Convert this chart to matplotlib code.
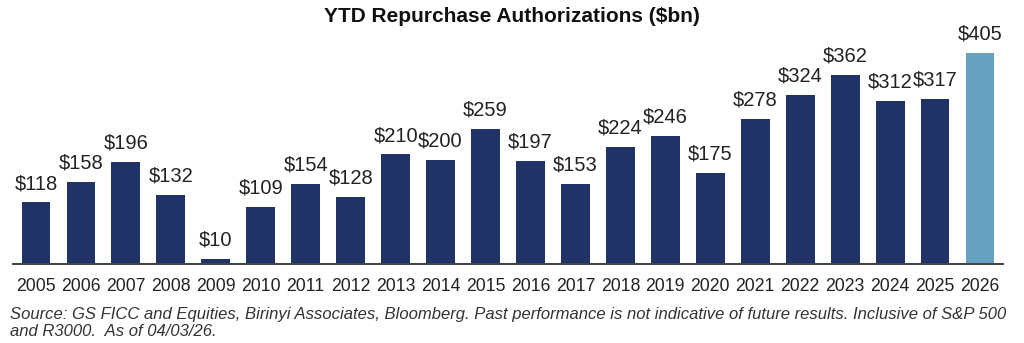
import matplotlib.pyplot as plt
import numpy as np

plt.rcParams['font.family'] = ['Liberation Sans', 'DejaVu Sans']

years = [str(y) for y in range(2005, 2027)]
values = [118, 158, 196, 132, 10, 109, 154, 128, 210, 200, 259,
          197, 153, 224, 246, 175, 278, 324, 362, 312, 317, 405]

navy = '#1f3366'
light = '#68a0c2'
colors = [navy] * (len(values) - 1) + [light]

fig = plt.figure(figsize=(10.24, 3.43), dpi=100)
ax = fig.add_axes([13 / 1024, 79 / 343, 990 / 1024, 240 / 343])

x = np.arange(len(values))
bars = ax.bar(x, values, width=0.64, color=colors, zorder=2)

# value labels above each bar
for xi, v in zip(x, values):
    ax.text(xi, v + 18, f'${v}', ha='center', va='bottom',
            fontsize=14.5, color='#222222')

ax.set_xlim(-0.51, len(values) - 0.49)
ax.set_ylim(0, 460)
ax.set_xticks(x)
ax.set_xticklabels(years, fontsize=12.7, color='#222222')
ax.tick_params(axis='x', length=0, pad=10)
ax.set_yticks([])
for side in ['left', 'right', 'top']:
    ax.spines[side].set_visible(False)
ax.spines['bottom'].set_color('#444444')
ax.spines['bottom'].set_linewidth(1.5)

fig.text(0.5, 1 - 17 / 343, 'YTD Repurchase Authorizations ($bn)',
         ha='center', va='center', fontsize=15, fontweight='bold', color='#111111')

fig.text(10 / 1024, 1 - 323 / 343,
         'Source: GS FICC and Equities, Birinyi Associates, Bloomberg. Past performance is not '
         'indicative of future results. Inclusive of S&P 500\nand R3000.  As of 04/03/26.',
         ha='left', va='center', fontsize=12, style='italic', color='#333333',
         linespacing=1.2)

fig.savefig('out.png', dpi=100)
